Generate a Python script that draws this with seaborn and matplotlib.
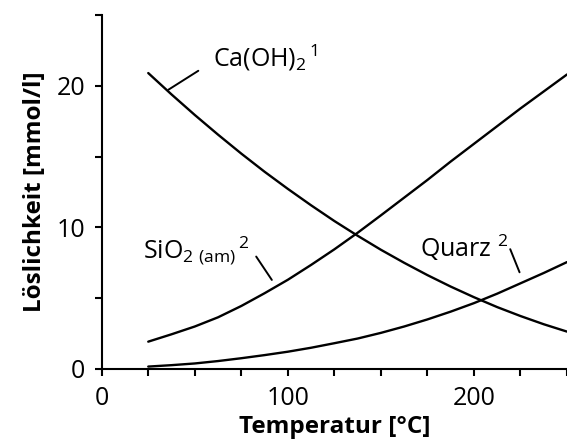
import matplotlib
matplotlib.use("Agg")
import matplotlib.pyplot as plt
from matplotlib.ticker import MultipleLocator
import seaborn as sns
import pandas as pd

# Temperatur [°C] und Löslichkeit [mmol/l]
temperatur = [25, 37.5, 50, 62.5, 75, 87.5, 100, 112.5, 125, 137.5,
              150, 162.5, 175, 187.5, 200, 212.5, 225, 237.5, 250]
ca_oh2 = [20.90, 19.39, 17.94, 16.55, 15.21, 13.93, 12.72, 11.56, 10.45, 9.41,
          8.42, 7.50, 6.63, 5.82, 5.07, 4.37, 3.74, 3.16, 2.64]
sio2_am = [1.93, 2.45, 3.00, 3.65, 4.45, 5.35, 6.30, 7.35, 8.45, 9.62,
           10.85, 12.10, 13.35, 14.65, 15.90, 17.15, 18.40, 19.60, 20.80]
quarz = [0.17, 0.27, 0.39, 0.56, 0.76, 0.98, 1.22, 1.50, 1.82, 2.15,
         2.55, 3.00, 3.50, 4.05, 4.65, 5.32, 6.05, 6.78, 7.55]

x_ticks = [0, 100, 200]
y_ticks = [0, 10, 20]

df = pd.concat([
    pd.DataFrame({"T": temperatur, "L": ca_oh2, "Stoff": "Ca(OH)2"}),
    pd.DataFrame({"T": temperatur, "L": sio2_am, "Stoff": "SiO2 (am)"}),
    pd.DataFrame({"T": temperatur, "L": quarz, "Stoff": "Quarz"}),
])

sns.set_style("ticks")
font = ["Open Sans", "DejaVu Sans"]
plt.rcParams["font.family"] = font
plt.rcParams["text.color"] = "black"
plt.rcParams["axes.labelcolor"] = "black"
plt.rcParams["mathtext.fontset"] = "custom"
plt.rcParams["mathtext.rm"] = "Open Sans"
plt.rcParams["mathtext.it"] = "Open Sans"
plt.rcParams["mathtext.bf"] = "Open Sans:bold"

fig = plt.figure(figsize=(5.67, 4.41), dpi=100)
ax = fig.add_axes([0.1794, 0.1633, 0.8206, 0.8027])

sns.lineplot(data=df, x="T", y="L", hue="Stoff",
             palette=["black", "black", "black"], linewidth=1.7,
             legend=False, ax=ax, clip_on=False)

ax.set_xlim(0, 250)
ax.set_ylim(0, 25)
ax.set_xticks(x_ticks)
ax.set_yticks(y_ticks)
ax.xaxis.set_minor_locator(MultipleLocator(25))
ax.yaxis.set_minor_locator(MultipleLocator(5))
ax.tick_params(which="both", direction="out", length=5, width=1.5,
               color="black", labelsize=18, labelcolor="black")
ax.tick_params(axis="y", pad=7)
ax.tick_params(axis="x", pad=7)

for side in ("top", "right"):
    ax.spines[side].set_visible(False)
for side in ("left", "bottom"):
    ax.spines[side].set_linewidth(1.5)
    ax.spines[side].set_color("black")

ax.set_xlabel("Temperatur [°C]", fontsize=17.5, fontweight="bold",
              labelpad=3, color="black")
ax.set_ylabel("Löslichkeit [mmol/l]", fontsize=17.5, fontweight="bold",
              labelpad=7, color="black")

# Beschriftungen mit Hinweislinien
ax.text(60, 21.36, r"Ca(OH)$_2$$^{\,1}$", fontsize=18, ha="left",
        va="baseline", color="black")
ax.plot([35.8, 51.9], [19.72, 21.06], color="black", lw=1.4)

ax.text(22.4, 7.82, r"SiO$_{2\ (am)}$$^{\,2}$", fontsize=18, ha="left",
        va="baseline", color="black")
ax.plot([83.0, 91.4], [7.94, 6.29], color="black", lw=1.4)

ax.text(171.1, 7.94, r"Quarz $^2$", fontsize=18, ha="left",
        va="baseline", color="black")
ax.plot([219.5, 224.5], [8.46, 6.83], color="black", lw=1.4)

fig.savefig("out.png", dpi=100)
